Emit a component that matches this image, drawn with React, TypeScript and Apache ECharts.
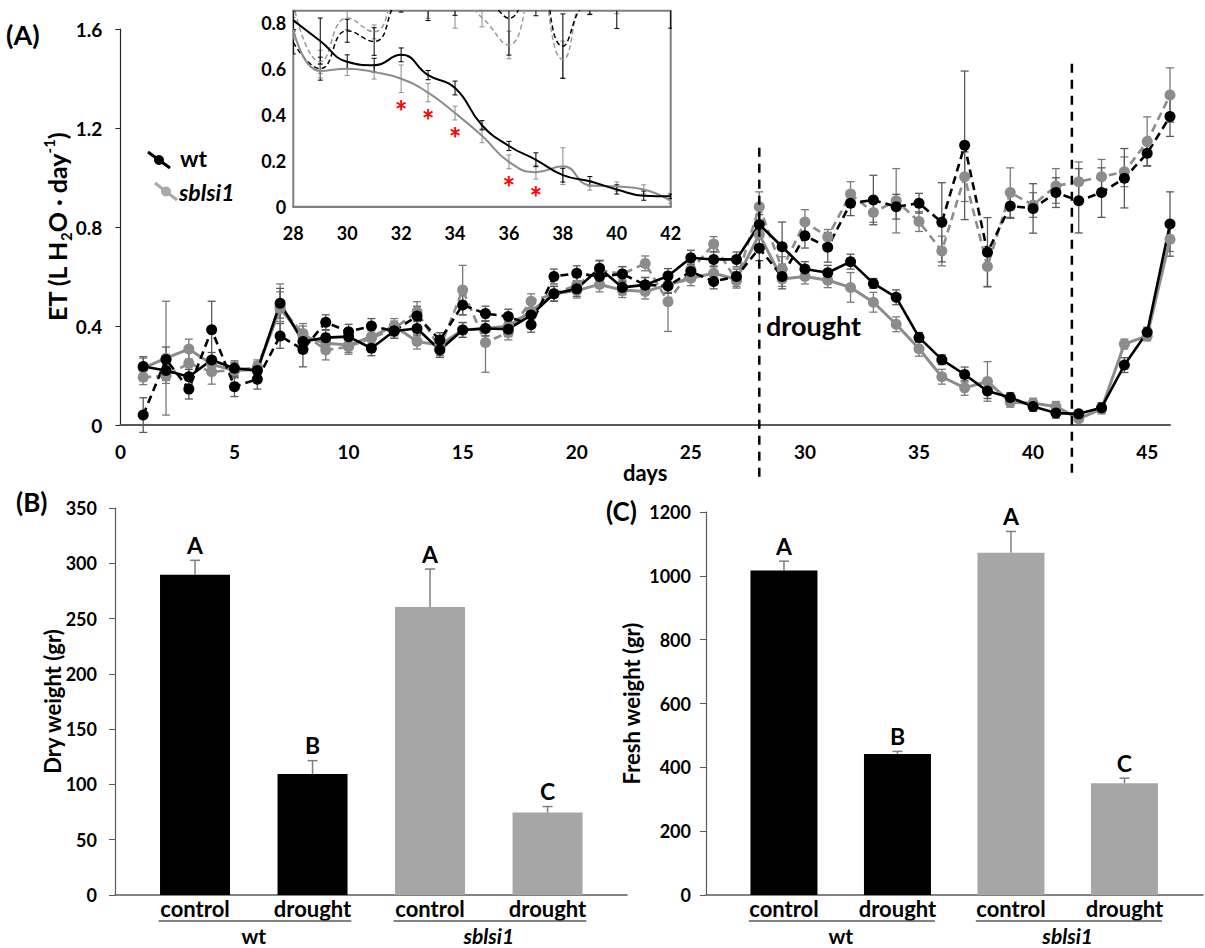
import React, { useEffect, useRef } from 'react';
import * as echarts from 'echarts';

// ---------------- data ----------------
const DAYS = [1, 2, 3, 4, 5, 6, 7, 8, 9, 10, 11, 12, 13, 14, 15, 16, 17, 18, 19, 20, 21, 22, 23, 24, 25, 26, 27, 28, 29, 30, 31, 32, 33, 34, 35, 36, 37, 38, 39, 40, 41, 42, 43, 44, 45, 46];

const WT_CONTROL = [0.04, 0.265, 0.145, 0.385, 0.155, 0.185, 0.36, 0.305, 0.415, 0.377, 0.40, 0.38, 0.44, 0.343, 0.485, 0.45, 0.438, 0.405, 0.60, 0.613, 0.60, 0.61, 0.566, 0.562, 0.62, 0.58, 0.60, 0.714, 0.60, 0.765, 0.718, 0.896, 0.909, 0.882, 0.896, 0.819, 1.13, 0.698, 0.885, 0.875, 0.939, 0.906, 0.939, 0.997, 1.098, 1.246];
const WT_CONTROL_ERR = [0.07, 0.05, 0.04, 0.115, 0.04, 0.04, 0.05, 0.07, 0.03, 0.03, 0.03, 0.03, 0.04, 0.03, 0.04, 0.03, 0.03, 0.03, 0.03, 0.03, 0.03, 0.03, 0.03, 0.03, 0.03, 0.03, 0.03, 0.05, 0.05, 0.05, 0.06, 0.05, 0.1, 0.05, 0.04, 0.16, 0.3, 0.14, 0.05, 0.1, 0.06, 0.13, 0.1, 0.12, 0.05, 0.08];

const WT_DROUGHT = [0.236, 0.22, 0.195, 0.263, 0.229, 0.22, 0.492, 0.337, 0.353, 0.357, 0.31, 0.38, 0.39, 0.303, 0.384, 0.39, 0.387, 0.444, 0.53, 0.55, 0.633, 0.556, 0.566, 0.602, 0.676, 0.669, 0.669, 0.81, 0.72, 0.63, 0.615, 0.66, 0.572, 0.516, 0.354, 0.264, 0.204, 0.137, 0.111, 0.075, 0.048, 0.045, 0.07, 0.242, 0.375, 0.812];
const WT_DROUGHT_ERR = [0.04, 0.04, 0.03, 0.03, 0.03, 0.03, 0.06, 0.03, 0.03, 0.03, 0.03, 0.03, 0.03, 0.03, 0.03, 0.03, 0.03, 0.03, 0.03, 0.03, 0.03, 0.03, 0.03, 0.03, 0.03, 0.03, 0.03, 0.04, 0.1, 0.03, 0.03, 0.03, 0.02, 0.03, 0.02, 0.02, 0.03, 0.03, 0.02, 0.02, 0.02, 0.01, 0.02, 0.03, 0.02, 0.13];

const SB_CONTROL = [0.193, 0.198, 0.249, 0.215, 0.222, 0.233, 0.478, 0.37, 0.303, 0.316, 0.35, 0.39, 0.458, 0.31, 0.545, 0.333, 0.374, 0.50, 0.53, 0.566, 0.626, 0.61, 0.653, 0.498, 0.626, 0.731, 0.583, 0.882, 0.63, 0.82, 0.76, 0.933, 0.859, 0.906, 0.822, 0.703, 1.003, 0.64, 0.939, 0.889, 0.966, 0.983, 1.003, 1.023, 1.145, 1.333];
const SB_CONTROL_ERR = [0.03, 0.03, 0.05, 0.05, 0.03, 0.03, 0.06, 0.04, 0.04, 0.03, 0.03, 0.03, 0.04, 0.03, 0.1, 0.12, 0.03, 0.03, 0.03, 0.03, 0.04, 0.03, 0.03, 0.12, 0.03, 0.03, 0.03, 0.06, 0.05, 0.05, 0.03, 0.05, 0.04, 0.13, 0.04, 0.06, 0.1, 0.08, 0.1, 0.05, 0.07, 0.08, 0.07, 0.06, 0.1, 0.11];

const SB_DROUGHT = [0.23, 0.27, 0.307, 0.245, 0.22, 0.225, 0.47, 0.36, 0.33, 0.323, 0.357, 0.40, 0.337, 0.323, 0.384, 0.39, 0.40, 0.46, 0.53, 0.543, 0.568, 0.545, 0.539, 0.566, 0.593, 0.613, 0.589, 0.77, 0.59, 0.60, 0.585, 0.556, 0.496, 0.407, 0.308, 0.195, 0.15, 0.176, 0.092, 0.088, 0.075, 0.025, 0.065, 0.327, 0.36, 0.751];
const SB_DROUGHT_ERR = [0.04, 0.23, 0.04, 0.03, 0.03, 0.03, 0.1, 0.04, 0.03, 0.03, 0.03, 0.03, 0.03, 0.03, 0.03, 0.03, 0.03, 0.03, 0.03, 0.03, 0.03, 0.03, 0.03, 0.03, 0.03, 0.03, 0.03, 0.04, 0.03, 0.03, 0.03, 0.06, 0.04, 0.03, 0.03, 0.03, 0.03, 0.08, 0.02, 0.02, 0.02, 0.01, 0.02, 0.02, 0.02, 0.05];

const DROUGHT_START = 28;
const REWATER_DAY = 41.7;
const INSET_FIRST = 28;
const INSET_LAST = 42;
const SIG_DAYS = [32, 33, 34, 36, 37];

const TREATMENTS = ['control', 'drought', 'control', 'drought'];
const GENOTYPES = ['wt', 'sblsi1'];
const BAR_SLOTS = [1, 2, 3, 4];
const DRY_WEIGHT = [289.7, 109.5, 260.4, 74.5];
const DRY_ERR = [13, 12, 34.4, 5.5];
const DRY_LETTERS = ['A', 'B', 'A', 'C'];
const FRESH_WEIGHT = [1017, 441.5, 1072, 350.5];
const FRESH_ERR = [29, 8.5, 67, 15.5];
const FRESH_LETTERS = ['A', 'B', 'A', 'C'];

// ---------------- styles ----------------
const FONT = 'Lato, "Open Sans", sans-serif';
const BLACK = '#000000';
const GRAY = '#8c8c8c';
const BAR_COLORS = ['#000000', '#000000', '#a6a6a6', '#a6a6a6'];
const AXIS_COLOR = '#595959';

const pts = (ys: number[], errs?: number[]) =>
  DAYS.map((d, i) => (errs ? [d, ys[i], errs[i]] : [d, ys[i]]));
const insetPts = (ys: number[], errs?: number[]) =>
  pts(ys, errs).filter((p) => p[0] >= INSET_FIRST && p[0] <= INSET_LAST);

function errRender(color: string, width: number, cap: number, oneSided: boolean) {
  return (params: any, api: any) => {
    const x = api.value(0);
    const y = api.value(1);
    const e = api.value(2);
    const top = api.coord([x, y + e]);
    const bot = api.coord([x, oneSided ? y : y - e]);
    const style = { stroke: color, lineWidth: width };
    const children: any[] = [
      { type: 'line', shape: { x1: top[0], y1: top[1], x2: bot[0], y2: bot[1] }, style },
      { type: 'line', shape: { x1: top[0] - cap / 2, y1: top[1], x2: top[0] + cap / 2, y2: top[1] }, style },
    ];
    if (!oneSided) {
      children.push({ type: 'line', shape: { x1: bot[0] - cap / 2, y1: bot[1], x2: bot[0] + cap / 2, y2: bot[1] }, style });
    }
    return { type: 'group', children };
  };
}

function errSeries(axis: number, data: any[], color: string, width: number, cap: number, oneSided = false, clip = false, z = 1) {
  return {
    type: 'custom',
    xAxisIndex: axis,
    yAxisIndex: axis,
    data,
    encode: { x: 0, y: 1 },
    clip,
    z,
    silent: true,
    renderItem: errRender(color, width, cap, oneSided),
  };
}

function letterSeries(axis: number, values: number[], errs: number[], letters: string[]) {
  return {
    type: 'custom',
    xAxisIndex: axis,
    yAxisIndex: axis,
    data: BAR_SLOTS.map((s, i) => [s, values[i], errs[i]]),
    encode: { x: 0, y: 1 },
    z: 5,
    silent: true,
    renderItem: (params: any, api: any) => {
      const p = api.coord([api.value(0), api.value(1) + api.value(2)]);
      return {
        type: 'text',
        x: p[0],
        y: p[1] - 4,
        style: {
          text: letters[params.dataIndex],
          fontSize: 23,
          fontWeight: 'bold',
          fontFamily: FONT,
          fill: '#000',
          align: 'center',
          verticalAlign: 'bottom',
          textAlign: 'center',
          textVerticalAlign: 'bottom',
        },
      };
    },
  };
}

const tickLabel = (size: number) => ({
  fontFamily: FONT,
  fontSize: size,
  fontWeight: 'bold' as const,
  color: '#000',
});

function buildOption(): any {
  const mainLine = (name: string, ys: number[], color: string, dashed: boolean, width: number, size: number) => ({
    name,
    type: 'line',
    xAxisIndex: 0,
    yAxisIndex: 0,
    data: pts(ys),
    symbol: 'circle',
    symbolSize: size,
    showSymbol: true,
    lineStyle: { color, width, type: dashed ? [8, 5] : 'solid' },
    itemStyle: { color },
    z: 3,
  });
  const insetLine = (name: string, ys: number[], color: string, dashed: boolean, width: number) => ({
    name: name + '-inset',
    type: 'line',
    xAxisIndex: 1,
    yAxisIndex: 1,
    data: insetPts(ys),
    smooth: true,
    symbol: 'none',
    showSymbol: false,
    clip: true,
    lineStyle: { color, width, type: dashed ? [5, 3] : 'solid' },
    z: 7,
  });

  return {
    animation: false,
    backgroundColor: '#ffffff',
    textStyle: { fontFamily: FONT },
    grid: [
      { left: 120.4, top: 29, width: 1049.6, height: 396, containLabel: false },
      { left: 293.3, top: 10.7, width: 377.4, height: 196, show: true, borderColor: '#7f7f7f', borderWidth: 2, backgroundColor: '#ffffff', z: 4 },
      { left: 115, top: 508, width: 512, height: 387 },
      { left: 706, top: 512, width: 497, height: 383 },
    ],
    xAxis: [
      {
        gridIndex: 0, type: 'value', min: 0, max: 46, interval: 5,
        axisLine: { show: true, onZero: false, lineStyle: { color: AXIS_COLOR, width: 2 } },
        axisTick: { show: false },
        splitLine: { show: false },
        axisLabel: { ...tickLabel(19), margin: 17, formatter: (v: number) => (v % 5 === 0 ? String(v) : '') },
      },
      {
        gridIndex: 1, type: 'value', min: INSET_FIRST, max: INSET_LAST, interval: 1,
        axisLine: { show: true, onZero: false, lineStyle: { color: '#7f7f7f', width: 2 } },
        axisTick: { show: true, inside: true, length: 5, lineStyle: { color: '#7f7f7f', width: 1.5 } },
        splitLine: { show: false },
        axisLabel: { ...tickLabel(18), margin: 17, formatter: (v: number) => (v % 2 === 0 ? String(v) : '') },
      },
      {
        gridIndex: 2, type: 'value', min: 0.319, max: 4.676,
        axisLine: { show: true, onZero: false, lineStyle: { color: AXIS_COLOR, width: 1.5 } },
        axisTick: { show: false }, axisLabel: { show: false }, splitLine: { show: false },
      },
      {
        gridIndex: 3, type: 'value', min: 0.313, max: 4.692,
        axisLine: { show: true, onZero: false, lineStyle: { color: AXIS_COLOR, width: 1.5 } },
        axisTick: { show: false }, axisLabel: { show: false }, splitLine: { show: false },
      },
    ],
    yAxis: [
      {
        gridIndex: 0, type: 'value', min: 0, max: 1.6, interval: 0.4,
        axisLine: { show: true, lineStyle: { color: '#262626', width: 1.2 } },
        axisTick: { show: true, length: 5, lineStyle: { color: '#262626' } },
        splitLine: { show: false },
        axisLabel: { ...tickLabel(19), margin: 18, formatter: (v: number) => (v === 0 ? '0' : v.toFixed(1)) },
      },
      {
        gridIndex: 1, type: 'value', min: 0, max: 0.852, interval: 0.2,
        axisLine: { show: true, lineStyle: { color: '#7f7f7f', width: 2 } },
        axisTick: { show: false },
        splitLine: { show: false },
        axisLabel: {
          ...tickLabel(18), margin: 7,
          formatter: (v: number) => {
            const k = v / 0.2;
            if (Math.abs(k - Math.round(k)) > 1e-6) return '';
            return v === 0 ? '0' : v.toFixed(1);
          },
        },
      },
      {
        gridIndex: 2, type: 'value', min: 0, max: 350, interval: 50,
        axisLine: { show: true, lineStyle: { color: AXIS_COLOR, width: 1.2 } },
        axisTick: { show: true, length: 6, lineStyle: { color: AXIS_COLOR } },
        splitLine: { show: false },
        axisLabel: { ...tickLabel(18), margin: 18, formatter: (v: number) => String(v) },
      },
      {
        gridIndex: 3, type: 'value', min: 0, max: 1200, interval: 200,
        axisLine: { show: true, lineStyle: { color: AXIS_COLOR, width: 1.2 } },
        axisTick: { show: true, length: 6, lineStyle: { color: AXIS_COLOR } },
        splitLine: { show: false },
        axisLabel: { ...tickLabel(18), margin: 15, formatter: (v: number) => String(v) },
      },
    ],
    series: [
      // ---- panel A main ----
      errSeries(0, pts(SB_DROUGHT, SB_DROUGHT_ERR), '#7a7a7a', 1.3, 8),
      errSeries(0, pts(SB_CONTROL, SB_CONTROL_ERR), '#7a7a7a', 1.3, 8),
      errSeries(0, pts(WT_DROUGHT, WT_DROUGHT_ERR), '#5a5a5a', 1.3, 8),
      errSeries(0, pts(WT_CONTROL, WT_CONTROL_ERR), '#5a5a5a', 1.3, 8),
      mainLine('sblsi1 drought', SB_DROUGHT, GRAY, false, 3, 11),
      mainLine('sblsi1 control', SB_CONTROL, GRAY, true, 2.6, 11),
      mainLine('wt drought', WT_DROUGHT, BLACK, false, 2.6, 11),
      mainLine('wt control', WT_CONTROL, BLACK, true, 2.6, 11),
      // ---- panel A inset ----
      errSeries(1, insetPts(SB_CONTROL, SB_CONTROL_ERR), '#8c8c8c', 1, 5, false, true, 6),
      errSeries(1, insetPts(WT_CONTROL, WT_CONTROL_ERR), '#000', 1, 5, false, true, 6),
      errSeries(1, insetPts(SB_DROUGHT, SB_DROUGHT_ERR), '#8c8c8c', 1, 5, false, true, 6),
      errSeries(1, insetPts(WT_DROUGHT, WT_DROUGHT_ERR), '#000', 1, 5, false, true, 6),
      insetLine('sblsi1 control', SB_CONTROL, '#999999', true, 1.5),
      insetLine('wt control', WT_CONTROL, BLACK, true, 1.5),
      insetLine('sblsi1 drought', SB_DROUGHT, '#8c8c8c', false, 2),
      insetLine('wt drought', WT_DROUGHT, BLACK, false, 2),
      {
        type: 'custom',
        xAxisIndex: 1,
        yAxisIndex: 1,
        z: 8,
        silent: true,
        data: SIG_DAYS.map((d) => {
          const i = DAYS.indexOf(d);
          return [d, SB_DROUGHT[i] - SB_DROUGHT_ERR[i] - 0.04];
        }),
        encode: { x: 0, y: 1 },
        renderItem: (params: any, api: any) => {
          const p = api.coord([api.value(0), api.value(1)]);
          return {
            type: 'text',
            x: p[0],
            y: p[1] + 9,
            style: {
              text: '*', fontSize: 30, fontWeight: 'bold', fontFamily: FONT, fill: '#ff0000',
              align: 'center', verticalAlign: 'middle', textAlign: 'center', textVerticalAlign: 'middle',
            },
          };
        },
      },
      // ---- panel B ----
      {
        type: 'bar', xAxisIndex: 2, yAxisIndex: 2, barWidth: 70,
        data: BAR_SLOTS.map((s, i) => ({ value: [s, DRY_WEIGHT[i]], itemStyle: { color: BAR_COLORS[i] } })),
      },
      errSeries(2, BAR_SLOTS.map((s, i) => [s, DRY_WEIGHT[i], DRY_ERR[i]]), '#7f7f7f', 1.5, 10, true),
      letterSeries(2, DRY_WEIGHT, DRY_ERR, DRY_LETTERS),
      // ---- panel C ----
      {
        type: 'bar', xAxisIndex: 3, yAxisIndex: 3, barWidth: 67,
        data: BAR_SLOTS.map((s, i) => ({ value: [s, FRESH_WEIGHT[i]], itemStyle: { color: BAR_COLORS[i] } })),
      },
      errSeries(3, BAR_SLOTS.map((s, i) => [s, FRESH_WEIGHT[i], FRESH_ERR[i]]), '#7f7f7f', 1.5, 10, true),
      letterSeries(3, FRESH_WEIGHT, FRESH_ERR, FRESH_LETTERS),
    ],
  };
}

function txt(x: number, y: number, text: string, size: number, opts: any = {}) {
  return {
    type: 'text',
    x,
    y,
    z: 10,
    rotation: opts.rotation || 0,
    silent: true,
    style: {
      text,
      fontFamily: FONT,
      fontSize: size,
      fontWeight: 'bold',
      fontStyle: opts.italic ? 'italic' : 'normal',
      fill: opts.color || '#000',
      align: opts.align || 'center',
      verticalAlign: 'middle',
      textAlign: opts.align || 'center',
      textVerticalAlign: 'middle',
      rich: opts.rich,
    },
  };
}

function buildGraphics(chart: any): any[] {
  const px = (xi: number, v: number) => chart.convertToPixel({ xAxisIndex: xi }, v) as number;
  const py = (yi: number, v: number) => chart.convertToPixel({ yAxisIndex: yi }, v) as number;
  const g: any[] = [];
  const UP = Math.PI / 2;

  // panel tags
  g.push(txt(6, 34, '(A)', 27, { align: 'left' }));
  g.push(txt(16, 502, '(B)', 26, { align: 'left' }));
  g.push(txt(606, 511, '(C)', 26, { align: 'left' }));

  // axis titles
  const r = (size: number) => ({ fontFamily: FONT, fontSize: size, fontWeight: 'bold', fill: '#000', color: '#000' });
  g.push(txt(57, (py(0, 0) + py(0, 1.6)) / 2, '{a|ET (L H}{s|2}{a|O · day}{p|-1}{a|)}', 25, {
    rotation: UP,
    rich: {
      a: { ...r(25), lineHeight: 32 },
      s: { ...r(15), lineHeight: 32, verticalAlign: 'bottom' },
      p: { ...r(15), lineHeight: 32, verticalAlign: 'top' },
    },
  }));
  g.push(txt((px(0, 0) + px(0, 46)) / 2, py(0, 0) + 47, 'days', 22));
  g.push(txt(52, (py(2, 0) + py(2, 350)) / 2, 'Dry weight (gr)', 22, { rotation: UP }));
  g.push(txt(631, (py(3, 0) + py(3, 1200)) / 2, 'Fresh weight (gr)', 22, { rotation: UP }));

  // legend
  g.push({ type: 'line', z: 10, shape: { x1: 148, y1: 152, x2: 170, y2: 168 }, style: { stroke: BLACK, lineWidth: 3 } });
  g.push({ type: 'circle', z: 10, shape: { cx: 159, cy: 160, r: 5 }, style: { fill: BLACK } });
  g.push(txt(180, 158, 'wt', 23, { align: 'left' }));
  g.push({ type: 'line', z: 10, shape: { x1: 155, y1: 183, x2: 177, y2: 200 }, style: { stroke: '#a9a9a9', lineWidth: 3 } });
  g.push({ type: 'circle', z: 10, shape: { cx: 166, cy: 191.5, r: 5 }, style: { fill: '#a9a9a9' } });
  g.push(txt(179, 192, 'sblsi1', 23, { align: 'left', italic: true }));

  // drought annotation + vertical dashed markers
  g.push(txt(766, 325, 'drought', 27, { align: 'left' }));
  const base0 = py(0, 0);
  const dash = { stroke: BLACK, lineWidth: 2.5, lineDash: [9, 7] };
  const xd = px(0, DROUGHT_START);
  g.push({ type: 'line', z: 9, shape: { x1: xd, y1: py(0, 1.12), x2: xd, y2: base0 + 53 }, style: dash });
  const xr = px(0, REWATER_DAY);
  g.push({ type: 'line', z: 9, shape: { x1: xr, y1: py(0, 1.46), x2: xr, y2: base0 + 51 }, style: dash });

  // bar chart category labels
  [2, 3].forEach((ai) => {
    const base = py(ai, 0);
    TREATMENTS.forEach((t, i) => g.push(txt(px(ai, BAR_SLOTS[i]), base + 13, t, 22)));
    GENOTYPES.forEach((gn, gi) => {
      const a = BAR_SLOTS[gi * 2];
      const b = BAR_SLOTS[gi * 2 + 1];
      g.push({
        type: 'line', z: 10,
        shape: { x1: px(ai, a - 0.31), y1: base + 26, x2: px(ai, b + 0.33), y2: base + 26 },
        style: { stroke: AXIS_COLOR, lineWidth: 1.5 },
      });
      g.push(txt((px(ai, a) + px(ai, b)) / 2, base + 40, gn, 21, { italic: gi === 1 }));
    });
  });
  return g;
}

export default function App() {
  const ref = useRef<HTMLDivElement>(null);
  useEffect(() => {
    document.body.style.margin = '0';
    const chart = echarts.init(ref.current as HTMLDivElement, null, { renderer: 'svg' });
    chart.setOption(buildOption());
    chart.setOption({ graphic: buildGraphics(chart) });
    return () => chart.dispose();
  }, []);
  return <div ref={ref} style={{ width: 1205, height: 948, position: 'absolute', left: 0, top: 0 }} />;
}
